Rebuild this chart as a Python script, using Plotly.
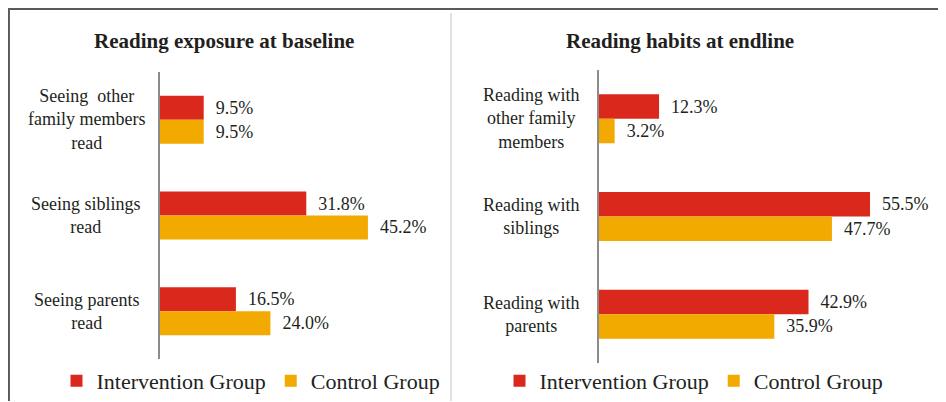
import plotly.graph_objects as go

# data
left_title = "Reading exposure at baseline"
right_title = "Reading habits at endline"
left_cats = ["Seeing  other<br>family members<br>read", "Seeing siblings<br>read", "Seeing parents<br>read"]
right_cats = ["Reading with<br>other family<br>members", "Reading with<br>siblings", "Reading with<br>parents"]
series_names = ["Intervention Group", "Control Group"]
left_intervention = [9.5, 31.8, 16.5]
left_control = [9.5, 45.2, 24.0]
right_intervention = [12.3, 55.5, 42.9]
right_control = [3.2, 47.7, 35.9]

RED = "#DA291C"
GOLD = "#F2A900"
FONT = "Liberation Serif, DejaVu Serif, serif"
INK = "#231F20"
# page has an 8px body margin, so the figure is a bit smaller and offset
OFF = 8
W, H = 946 - OFF, 402 - OFF

fig = go.Figure()

panels = [
    ("x", "y", "legend", left_cats, left_intervention, left_control),
    ("x2", "y2", "legend2", right_cats, right_intervention, right_control),
]
for xa, ya, lg, cats, iv, cv in panels:
    for name, vals, col in [(series_names[0], iv, RED), (series_names[1], cv, GOLD)]:
        fig.add_trace(go.Bar(
            y=cats, x=vals, name=name, orientation="h",
            marker=dict(color=col, line=dict(width=0)),
            texttemplate="\u00a0\u00a0%{x:.1f}%", textposition="outside",
            textfont=dict(family=FONT, size=18, color=INK),
            cliponaxis=False, xaxis=xa, yaxis=ya, legend=lg,
        ))

def px_x(p):
    return (p - OFF) / W

def px_y(p):
    return 1 - (p - OFF) / H

axis_common = dict(showgrid=False, zeroline=False, showticklabels=False, ticks="")
legend_common = dict(orientation="h", xanchor="center", yanchor="middle",
                     font=dict(family=FONT, size=22, color=INK), bgcolor="rgba(0,0,0,0)",
                     traceorder="normal", itemwidth=30)
fig.update_layout(
    width=W, height=H,
    margin=dict(l=0, r=0, t=0, b=0),
    paper_bgcolor="white", plot_bgcolor="white",
    barmode="group", bargap=0.5, bargroupgap=0,
    font=dict(family=FONT, color=INK),
    xaxis=dict(domain=[px_x(160), px_x(436)], range=[0, 60], anchor="y", **axis_common),
    yaxis=dict(domain=[px_y(360), px_y(72)], anchor="x", autorange="reversed",
               showline=True, linecolor="#8C8C8C", linewidth=1.5, **axis_common),
    xaxis2=dict(domain=[px_x(599), px_x(892)], range=[0, 60], anchor="y2", **axis_common),
    yaxis2=dict(domain=[px_y(364), px_y(70)], anchor="x2", autorange="reversed",
                showline=True, linecolor="#8C8C8C", linewidth=1.5, **axis_common),
    legend=dict(x=px_x(251), y=px_y(382), **legend_common),
    legend2=dict(x=px_x(694), y=px_y(382), **legend_common),
    showlegend=True,
)

# titles
for t, xc in [(left_title, 224), (right_title, 680)]:
    fig.add_annotation(text="<b>" + t + "</b>", x=px_x(xc), y=px_y(41), xref="paper", yref="paper",
                       xanchor="center", yanchor="middle", showarrow=False,
                       font=dict(family=FONT, size=21, color=INK))

# centred category labels
for cats, xc, ya in [(left_cats, 86, "y"), (right_cats, 531, "y2")]:
    for c in cats:
        fig.add_annotation(text=c, x=px_x(xc), y=c, xref="paper", yref=ya, showarrow=False,
                           align="center", xanchor="center", yanchor="middle",
                           font=dict(family=FONT, size=18, color=INK))

# frame lines
fig.add_shape(type="line", xref="paper", yref="paper", x0=0, x1=1, y0=px_y(9), y1=px_y(9),
              line=dict(color="#5A5A5A", width=2))
fig.add_shape(type="line", xref="paper", yref="paper", x0=0.001, x1=0.001, y0=px_y(9), y1=0,
              line=dict(color="#5A5A5A", width=2))
fig.add_shape(type="line", xref="paper", yref="paper", x0=px_x(451), x1=px_x(451), y0=px_y(13), y1=0,
              line=dict(color="#D9D9D9", width=1.5))

fig.write_html("out.html")
